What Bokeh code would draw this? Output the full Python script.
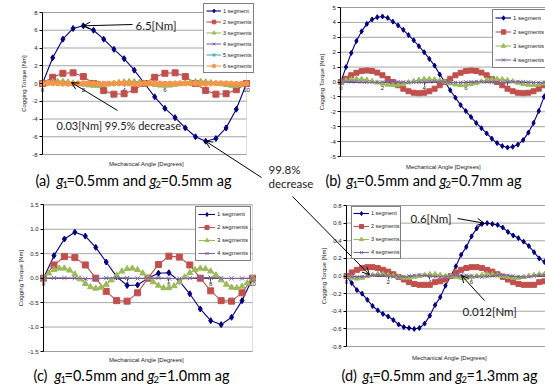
from bokeh.plotting import figure
from bokeh.models import (Range1d, FixedTicker, PrintfTickFormatter, Legend, LegendItem,
                          Label, Arrow, OpenHead, LinearAxis, BoxAnnotation)
from bokeh.embed import file_html
from bokeh.resources import INLINE

# ---------------- data ----------------
angle_half = [0.0, 0.5, 1.0, 1.5, 2.0, 2.5, 3.0, 3.5, 4.0, 4.5, 5.0,
              5.5, 6.0, 6.5, 7.0, 7.5, 8.0, 8.5, 9.0, 9.5, 10.0]
angle_quarter = [0.0, 0.25, 0.5, 0.75, 1.0, 1.25, 1.5, 1.75, 2.0, 2.25, 2.5,
                 2.75, 3.0, 3.25, 3.5, 3.75, 4.0, 4.25, 4.5, 4.75, 5.0,
                 5.25, 5.5, 5.75, 6.0, 6.25, 6.5, 6.75, 7.0, 7.25, 7.5,
                 7.75, 8.0, 8.25, 8.5, 8.75, 9.0, 9.25, 9.5, 9.75, 10.0]

seg_labels = ["1 segment", "2 segments", "3 segments", "4 segments", "5 segments", "6 segments"]

# (a) g1=0.5mm, g2=0.5mm
a_seg1 = [0, 2.9, 5.0, 6.2, 6.5, 6.0, 5.0, 3.85, 2.8, 1.5, 0,
          -1.5, -2.8, -3.85, -5.0, -6.0, -6.5, -6.2, -5.0, -2.9, 0]
a_seg2 = [0, 0.7, 1.15, 1.2, 0.78, 0, -0.78, -1.2, -1.15, -0.7, 0,
          0.7, 1.15, 1.2, 0.78, 0, -0.78, -1.2, -1.15, -0.7, 0]
a_seg3 = [0, 0.12, 0.22, 0.27, 0.26, 0.2, 0.1, -0.02, -0.13, -0.22, -0.27,
          -0.26, -0.19, -0.09, 0.03, 0.14, 0.23, 0.27, 0.25, 0.18, 0.07,
          -0.05, -0.16, -0.24, -0.27, -0.24, -0.16, -0.05, 0.07, 0.18, 0.25,
          0.27, 0.23, 0.14, 0.03, -0.09, -0.19, -0.26, -0.27, -0.15, 0]
a_seg4 = [0, 0.06, 0.1, 0.1, 0.06, 0, -0.06, -0.1, -0.1, -0.06, 0,
          0.06, 0.1, 0.1, 0.06, 0, -0.06, -0.1, -0.1, -0.06, 0,
          0.06, 0.1, 0.1, 0.06, 0, -0.06, -0.1, -0.1, -0.06, 0,
          0.06, 0.1, 0.1, 0.06, 0, -0.06, -0.1, -0.1, -0.06, 0]
a_seg5 = [0, 0.04, 0.05, 0.04, 0, -0.04, -0.05, -0.04, 0, 0.04, 0.05,
          0.04, 0, -0.04, -0.05, -0.04, 0, 0.04, 0.05, 0.04, 0,
          -0.04, -0.05, -0.04, 0, 0.04, 0.05, 0.04, 0, -0.04, -0.05,
          -0.04, 0, 0.04, 0.05, 0.04, 0, -0.04, -0.05, -0.04, 0]
a_seg6 = [0, 0.026, 0.03, 0.01, -0.015, -0.03, -0.022, 0.005, 0.028, 0.028, 0.005,
          -0.022, -0.03, -0.015, 0.01, 0.03, 0.026, 0, -0.026, -0.03, 0,
          0.03, 0.026, 0, -0.026, -0.03, -0.01, 0.015, 0.03, 0.022, -0.005,
          -0.028, -0.028, -0.005, 0.022, 0.03, 0.015, -0.01, -0.03, -0.026, 0]

# (b) g1=0.5mm, g2=0.7mm
b_seg1 = [0, 1.0, 1.95, 2.75, 3.4, 3.9, 4.2, 4.35, 4.4, 4.3, 4.05,
          3.8, 3.5, 3.15, 2.8, 2.4, 2.0, 1.55, 1.1, 0.5, 0,
          -0.55, -1.05, -1.55, -1.95, -2.35, -2.75, -3.1, -3.45, -3.8, -4.1,
          -4.3, -4.4, -4.35, -4.2, -3.9, -3.4, -2.75, -1.95, -1.0, 0]
b_seg2 = [0, 0.22, 0.45, 0.62, 0.73, 0.77, 0.74, 0.63, 0.45, 0.2, 0,
          -0.22, -0.45, -0.62, -0.72, -0.75, -0.72, -0.62, -0.45, -0.22, 0,
          0.22, 0.45, 0.62, 0.73, 0.77, 0.74, 0.63, 0.45, 0.2, 0,
          -0.22, -0.45, -0.62, -0.72, -0.75, -0.72, -0.62, -0.45, -0.22, 0]
b_seg3 = [0, 0.1, 0.17, 0.2, 0.19, 0.14, 0.06, -0.04, -0.12, -0.18, -0.2,
          -0.18, -0.12, -0.03, 0.06, 0.14, 0.19, 0.2, 0.17, 0.1, 0,
          -0.1, -0.17, -0.2, -0.19, -0.14, -0.06, 0.03, 0.12, 0.18, 0.2,
          0.18, 0.12, 0.04, -0.06, -0.14, -0.19, -0.2, -0.17, -0.1, 0]
b_seg4 = [0, 0.02, 0.03, 0.02, 0, -0.02, -0.03, -0.02, 0, 0.02, 0.03,
          0.02, 0, -0.02, -0.03, -0.02, 0, 0.02, 0.03, 0.02, 0,
          -0.02, -0.03, -0.02, 0, 0.02, 0.03, 0.02, 0, -0.02, -0.03,
          -0.02, 0, 0.02, 0.03, 0.02, 0, -0.02, -0.03, -0.02, 0]

# (c) g1=0.5mm, g2=1.0mm
c_seg1 = [0, 0.46, 0.8, 0.94, 0.86, 0.63, 0.33, 0.03, -0.15, -0.14, 0,
          0.1, 0.11, -0.06, -0.32, -0.63, -0.87, -0.95, -0.8, -0.46, 0]
c_seg2 = [0, 0.27, 0.44, 0.42, 0.27, 0, -0.27, -0.46, -0.47, -0.3, 0,
          0.28, 0.45, 0.43, 0.27, 0, -0.26, -0.46, -0.47, -0.3, 0]
c_seg3 = [0, 0.1, 0.17, 0.2, 0.2, 0.16, 0.08, -0.02, -0.11, -0.18, -0.21,
          -0.19, -0.13, -0.04, 0.06, 0.14, 0.19, 0.2, 0.17, 0.1, 0.01,
          -0.08, -0.15, -0.2, -0.2, -0.16, -0.08, 0.02, 0.11, 0.17, 0.2,
          0.19, 0.14, 0.06, -0.04, -0.13, -0.19, -0.2, -0.17, -0.1, 0]
c_seg4 = [0, 0.005, 0.005, 0, -0.01, -0.01, 0, 0.01, 0.005, -0.005, 0,
          0.005, -0.005, -0.01, 0, 0.01, 0.01, 0, -0.005, -0.005, 0]

# (d) g1=0.5mm, g2=1.3mm
d_seg1 = [0, -0.08, -0.16, -0.2, -0.27, -0.34, -0.39, -0.43, -0.46, -0.5, -0.55,
          -0.58, -0.59, -0.6, -0.59, -0.54, -0.45, -0.33, -0.24, -0.11, 0,
          0.11, 0.24, 0.33, 0.45, 0.54, 0.59, 0.6, 0.59, 0.58, 0.55,
          0.5, 0.46, 0.43, 0.39, 0.34, 0.27, 0.2, 0.16, 0.08, 0]
d_seg2 = [0, 0.04, 0.07, 0.09, 0.1, 0.1, 0.09, 0.07, 0.05, 0.02, -0.01,
          -0.04, -0.07, -0.09, -0.1, -0.1, -0.1, -0.07, -0.06, -0.04, 0,
          0.04, 0.07, 0.09, 0.1, 0.1, 0.09, 0.07, 0.05, 0.02, -0.01,
          -0.04, -0.07, -0.09, -0.1, -0.1, -0.1, -0.07, -0.06, -0.04, 0]
d_seg3 = [0, -0.02, -0.03, -0.02, 0, 0.01, 0.02, 0.02, 0.01, 0, -0.01,
          -0.02, -0.02, -0.01, 0, 0.01, 0.02, 0.02, 0.01, 0, 0,
          -0.01, -0.02, -0.02, -0.01, 0, 0.01, 0.02, 0.02, 0.01, 0,
          -0.01, -0.02, -0.02, -0.01, 0, 0.01, 0.02, 0.02, 0.01, 0]
d_seg4 = [0, -0.008, -0.012, -0.008, 0, 0.008, 0.012, 0.008, 0, -0.008, -0.012,
          -0.008, 0, 0.008, 0.012, 0.008, 0, -0.008, -0.012, -0.008, 0,
          0.008, 0.012, 0.008, 0, -0.008, -0.012, -0.008, 0, 0.008, 0.012,
          0.008, 0, -0.008, -0.012, -0.008, 0, 0.008, 0.012, 0.008, 0]

# tick values
a_yticks = [-8, -6, -4, -2, 0, 2, 4, 6, 8]
b_yticks = [-5, -4, -3, -2, -1, 0, 1, 2, 3, 4, 5]
c_yticks = [-1.5, -1.0, -0.5, 0.0, 0.5, 1.0, 1.5]
d_yticks = [-0.8, -0.6, -0.4, -0.2, 0.0, 0.2, 0.4, 0.6, 0.8]
xticks_full = [0, 2, 4, 6, 8, 10]
xticks_cut = [0, 2, 4, 6, 8]

# texts
note_a_peak = "6.5[Nm]"
note_a_min = "0.03[Nm] 99.5% decrease"
note_mid = ["99.8%", "decrease"]
note_d_peak = "0.6[Nm]"
note_d_min = "0.012[Nm]"
x_title = "Mechanical Angle [Degrees]"
y_title = "Cogging Torque [Nm]"

# ---------------- styles / layout ----------------
COLORS = ["#000080", "#C0504D", "#9BBB59", "#8064A2", "#4BACC6", "#F79646"]
MARKERS = ["diamond", "square", "triangle", "x", "asterisk", "circle"]
AXFONT = "Liberation Sans"
CAPFONT = "Lato"
W, H = 545, 387

# page-pixel placement of every plot area: (px of x0, px of x1), (x0, x1), (py of ytop, py of ybot), (ytop, ybot)
GEOM = {
    "a": ((42, 246), (0, 10), (12, 154), (8, -8)),
    "b": ((340.3, 507), (0, 8), (7, 156), (5, -5)),
    "c": ((43, 252), (0, 10), (204.3, 351), (1.5, -1.5)),
    "d": ((346, 512.7), (0, 8), (205, 346), (0.8, -0.8)),
}


def scales(k):
    (px0, px1), (xv0, xv1), (py0, py1), (yv0, yv1) = GEOM[k]
    sx = (px1 - px0) / (xv1 - xv0)
    sy = (py1 - py0) / (yv0 - yv1)
    return px0, xv0, sx, py0, yv0, sy


def to_data(k, px, py):
    px0, xv0, sx, py0, yv0, sy = scales(k)
    return xv0 + (px - px0) / sx, yv0 - (py - py0) / sy


p = figure(width=W, height=H, x_range=Range1d(0, W), y_range=Range1d(H, 0),
           x_axis_type=None, y_axis_type=None, output_backend="svg", toolbar_location=None,
           min_border=0, min_border_left=0, min_border_right=0, min_border_top=0, min_border_bottom=0)
p.outline_line_color = None
p.background_fill_color = "white"
p.border_fill_color = "white"

xr, yr = {}, {}
for k in GEOM:
    px0, xv0, sx, py0, yv0, sy = scales(k)
    xr[k + "x"] = Range1d(xv0 - px0 / sx, xv0 + (W - px0) / sx)
    yr[k + "y"] = Range1d(yv0 - (H - py0) / sy, yv0 + py0 / sy)
p.extra_x_ranges = xr
p.extra_y_ranges = yr


def rn(k):
    return dict(x_range_name=k + "x", y_range_name=k + "y")


def frame_panel(k, y_ticks, x_ticks, y_fmt, title_standoff):
    ylo, yhi = min(y_ticks), max(y_ticks)
    # plot-area border
    p.add_layout(BoxAnnotation(left=0, right=10, bottom=ylo, top=yhi, fill_color=None,
                               line_color="#8c8c8c", line_width=1, level="underlay", **rn(k)))
    # horizontal gridlines at the y ticks
    gt = [t for t in y_ticks if t != 0]
    p.segment(x0=[0] * len(gt), x1=[10] * len(gt), y0=gt, y1=gt, line_color="#a6a6a6",
              line_width=1, level="underlay", **rn(k))
    yax = LinearAxis(fixed_location=0, bounds=(ylo, yhi), ticker=FixedTicker(ticks=y_ticks),
                     formatter=PrintfTickFormatter(format=y_fmt), **rn(k))
    yax.axis_line_color = "black"
    yax.major_tick_line_color = "black"
    yax.major_tick_out = 3
    yax.major_tick_in = 0
    yax.minor_tick_out = 0
    yax.minor_tick_in = 0
    yax.major_label_standoff = 2
    yax.major_label_text_font = AXFONT
    yax.major_label_text_font_size = "6px"
    yax.major_label_text_color = "#222222"
    yax.axis_label = y_title
    yax.axis_label_text_font = AXFONT
    yax.axis_label_text_font_size = "6px"
    yax.axis_label_text_font_style = "normal"
    yax.axis_label_text_color = "#222222"
    yax.axis_label_standoff = title_standoff
    p.add_layout(yax, "left")

    xax = LinearAxis(fixed_location=0, bounds=(0, 10), ticker=FixedTicker(ticks=x_ticks),
                     formatter=PrintfTickFormatter(format="%d"), level="underlay", **rn(k))
    xax.axis_line_color = "#404040"
    xax.major_tick_line_color = "#404040"
    xax.major_tick_out = 3
    xax.major_tick_in = 0
    xax.minor_tick_out = 0
    xax.minor_tick_in = 0
    xax.major_label_standoff = 1
    xax.major_label_text_font = AXFONT
    xax.major_label_text_font_size = "6px"
    xax.major_label_text_color = "#222222"
    p.add_layout(xax, "below")


def draw_series(k, xs, ys, i, size):
    lr = p.line(xs, ys, line_color=COLORS[i], line_width=1.1, **rn(k))
    sr = p.scatter(xs, ys, marker=MARKERS[i], size=size, fill_color=COLORS[i],
                   line_color=COLORS[i], line_width=1, **rn(k))
    return LegendItem(label=seg_labels[i], renderers=[lr, sr])


def add_legend(items, left, bottom, glyph_w, glyph_h, spacing, padding, font_px):
    leg = Legend(items=items, location=(left, H - bottom), orientation="vertical",
                 label_text_font=AXFONT, label_text_font_size=f"{font_px}px",
                 label_text_color="#222222",
                 glyph_width=glyph_w, glyph_height=glyph_h, label_height=glyph_h, label_width=10,
                 spacing=spacing, padding=padding, margin=0, label_standoff=2,
                 border_line_color="black", border_line_width=1,
                 background_fill_color="white", background_fill_alpha=1.0)
    p.add_layout(leg)


def add_text(x, y, text, size, font=CAPFONT, style="normal", align="left",
             baseline="middle", color="#1a1a1a", x_offset=0):
    p.add_layout(Label(x=x, y=y, text=text, text_font=font, text_font_size=f"{size}px",
                       text_font_style=style, text_align=align, text_baseline=baseline,
                       text_color=color, x_offset=x_offset))


def add_arrow(k, tail_px, head, head_is_page=False, size=7):
    x0, y0 = to_data(k, *tail_px)
    x1, y1 = to_data(k, *head) if head_is_page else head
    p.add_layout(Arrow(x_start=x0, y_start=y0, x_end=x1, y_end=y1,
                       line_color="black", line_width=1,
                       end=OpenHead(size=size, line_color="black", line_width=1), **rn(k)))


def add_caption(x, y_mid, letter, g2, size=14.5):
    pieces = [(f"({letter})", 0, "normal", False),
              ("g", 21, "italic", False),
              ("1", 27, "normal", True),
              ("=0.5mm and", 31, "normal", False),
              ("g", 114, "italic", False),
              ("2", 120, "normal", True),
              (f"={g2}mm ag", 125, "normal", False)]
    for text, off, style, sub in pieces:
        add_text(x, y_mid + (3.5 if sub else 0), text, 9.5 if sub else size, style=style,
                 baseline="middle", color="black", x_offset=off)


# ---------------- panel (a) ----------------
frame_panel("a", a_yticks, xticks_full, "%d", 2)
a_series = [a_seg1, a_seg2, a_seg3, a_seg4, a_seg5, a_seg6]
a_x = [angle_half, angle_half, angle_quarter, angle_quarter, angle_quarter, angle_quarter]
a_items = [draw_series("a", a_x[i], a_series[i], i, 6 if i < 2 else 5) for i in range(6)]
add_legend(a_items, 203, 73, 15, 9, 2, 2, 5.5)
add_text(135, 25, note_a_peak, 11.5)
add_arrow("a", (132, 24), (angle_half[4], a_seg1[4]))
add_text(56, 125, note_a_min, 11)
add_arrow("a", (117, 110), (71, 82), head_is_page=True)
add_arrow("a", (261, 177), (angle_half[16], a_seg1[16]))
add_text(146, 163, x_title, 6, font=AXFONT, align="center", color="#222222")
add_caption(35, 180, "a", "0.5")

# ---------------- panel (b) ----------------
frame_panel("b", b_yticks, xticks_cut, "%d", 2)
b_series = [b_seg1, b_seg2, b_seg3, b_seg4]
b_items = [draw_series("b", angle_quarter, b_series[i], i, 5) for i in range(4)]
add_legend(b_items, 492, 68, 16, 11, 3, 2, 6)
add_text(443, 166, x_title, 6, font=AXFONT, align="center", color="#222222")
add_caption(325, 180, "b", "0.7")

# ---------------- panel (c) ----------------
frame_panel("c", c_yticks, xticks_full, "%.1f", 1)
c_series = [c_seg1, c_seg2, c_seg3, c_seg4]
c_x = [angle_half, angle_half, angle_quarter, angle_half]
c_items = [draw_series("c", c_x[i], c_series[i], i, 6) for i in range(4)]
add_legend(c_items, 195, 261, 17, 10, 3, 2, 6)
add_text(146, 359, x_title, 6, font=AXFONT, align="center", color="#222222")
add_caption(33, 375, "c", "1.0")

# ---------------- panel (d) ----------------
frame_panel("d", d_yticks, xticks_cut, "%.1f", 1)
d_series = [d_seg1, d_seg2, d_seg3, d_seg4]
d_items = [draw_series("d", angle_quarter, d_series[i], i, 5) for i in range(4)]
add_legend(d_items, 351, 259, 16, 10, 3, 1, 5.5)
add_text(410, 218, note_d_peak, 11.5)
add_arrow("d", (457, 218), (6.6, 0.6))
add_text(462, 311, note_d_min, 11.5)
add_arrow("d", (484, 300), (461, 275), head_is_page=True)
add_text(449, 357, x_title, 6, font=AXFONT, align="center", color="#222222")
add_caption(341, 375, "d", "1.3")

# ---------------- shared note between panels ----------------
add_text(268, 169, note_mid[0], 11.5)
add_text(268, 183, note_mid[1], 11.5)
add_arrow("d", (292, 196), (1.1, 0.015))

open("out.html", "w").write(file_html(p, INLINE))
